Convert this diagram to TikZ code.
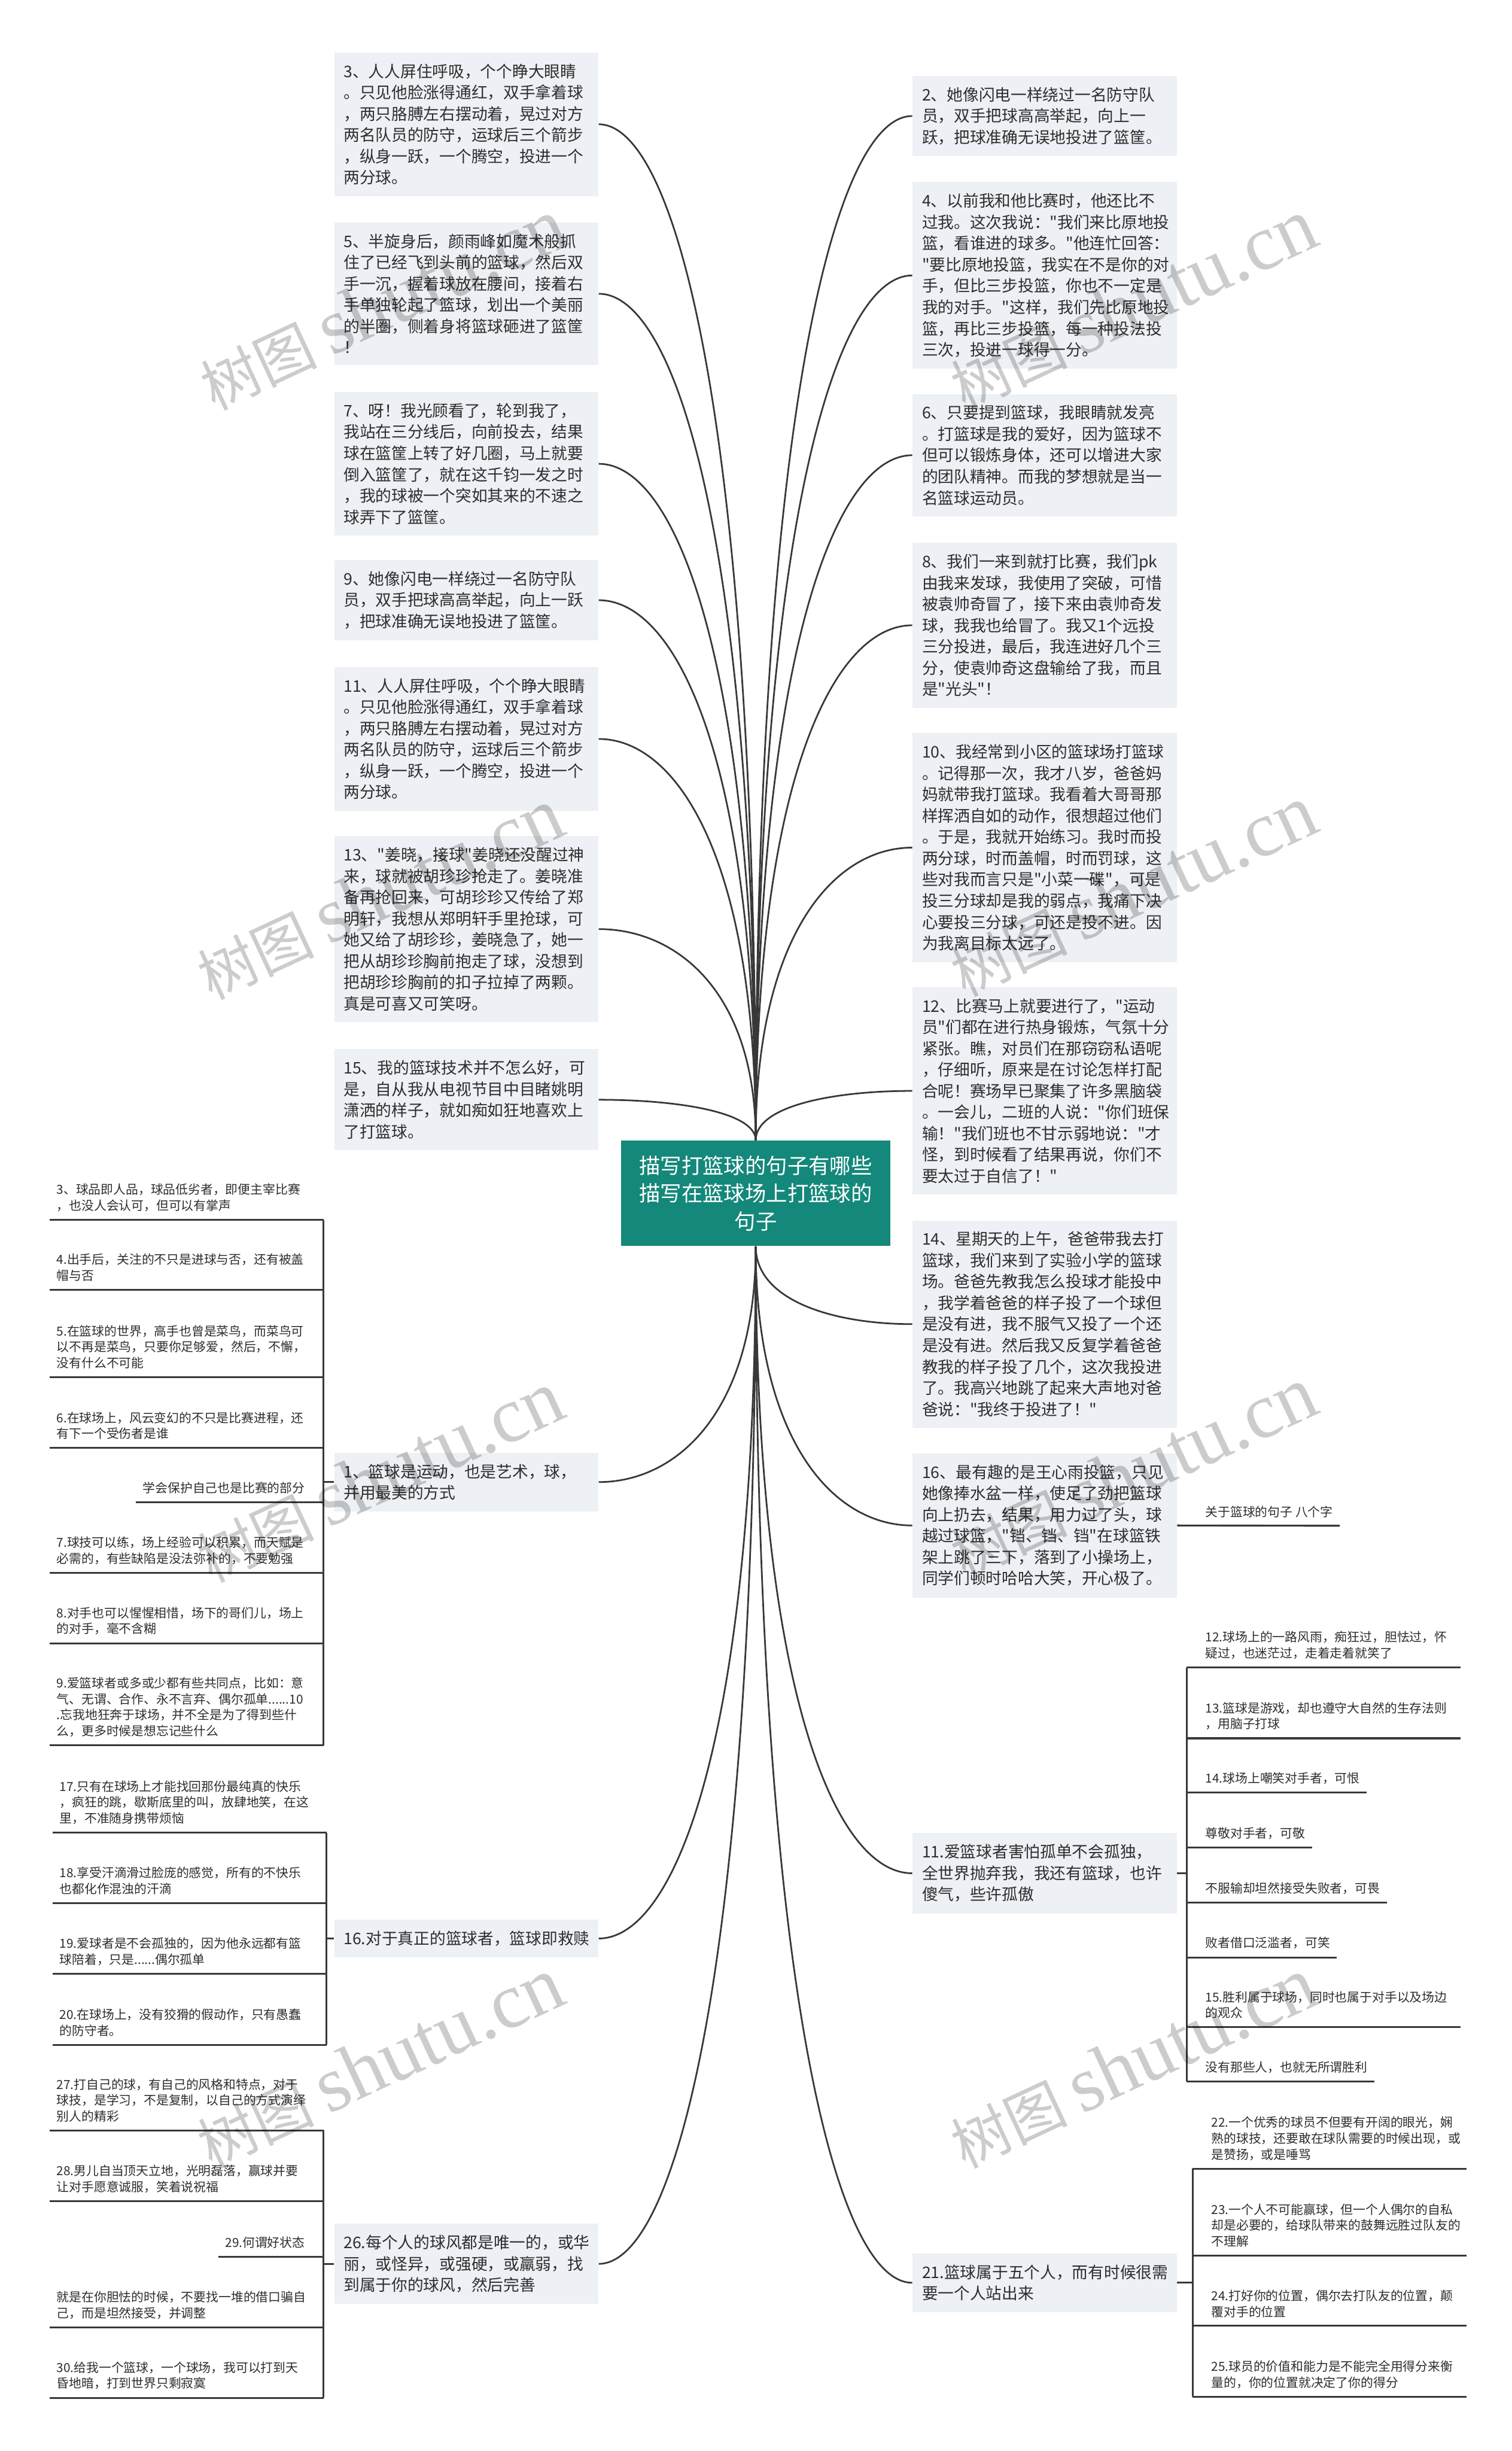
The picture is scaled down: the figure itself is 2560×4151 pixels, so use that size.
\documentclass[tikz,border=0pt]{standalone}
\usepackage{fontspec}
\setmainfont{Noto Sans CJK SC}[Ligatures=TeXOff]
\newfontfamily\latinserif{Liberation Serif}
\usetikzlibrary{positioning,calc}

\definecolor{boxgray}{RGB}{237,240,244}
\definecolor{hubteal}{RGB}{20,136,122}
\definecolor{linegray}{RGB}{56,56,56}
\definecolor{textgray}{RGB}{45,45,45}

% curves out of the title box
\newcommand{\linkup}[1]{\draw[link] (hub.north) .. controls ($(hub.north)!0.7!(hub.north|-#1)$) and ($(#1)!0.5!(hub.north|-#1)$) .. (#1);}
\newcommand{\linkdown}[1]{\draw[link] (hub.south) .. controls ($(hub.south)!0.7!(hub.south|-#1)$) and ($(#1)!0.5!(hub.south|-#1)$) .. (#1);}

\begin{document}
\begin{tikzpicture}[x=0.01cm,y=-0.01cm,
    box/.style={fill=boxgray,text=textgray,font=\fontsize{7.7}{10.24}\selectfont,text width=4.15cm,inner xsep=0.16cm,inner ysep=0.19cm,align=left},
    hub/.style={fill=hubteal,text=white,font=\fontsize{10.2}{13.4}\selectfont,minimum width=4.56cm,minimum height=1.78cm,inner sep=0pt,align=center},
    leaf/.style={text=textgray,font=\fontsize{6}{7.7}\selectfont,inner xsep=0.11cm,inner ysep=0.135cm,align=left},
    longleaf/.style={leaf,text width=4.2cm},
    link/.style={draw=linegray,line width=0.8pt},
    uline/.style={draw=linegray,line width=0.9pt},
    wmark/.style={rotate=25,text=black,text opacity=0.2,font=\fontsize{28}{28}\selectfont}]
  \fill[white] (0,0) rectangle (2560,4151);
  \useasboundingbox (0,0) rectangle (2560,4151);

  % Title
  \node[hub] (hub) at (1280,2021) {描写打篮球的句子有哪些\\描写在篮球场上打篮球的\\句子};

  % Left column
  \node[box,anchor=east] (l3) at (1014,210.5) {3、人人屏住呼吸，个个睁大眼睛\\。只见他脸涨得通红，双手拿着球\\，两只胳膊左右摆动着，晃过对方\\两名队员的防守，运球后三个箭步\\，纵身一跃，一个腾空，投进一个\\两分球。};
  \node[box,anchor=east] (l5) at (1014,497.5) {5、半旋身后，颜雨峰如魔术般抓\\住了已经飞到头前的篮球，然后双\\手一沉，握着球放在腰间，接着右\\手单独轮起了篮球，划出一个美丽\\的半圈，侧着身将篮球砸进了篮筐\\！};
  \node[box,anchor=east] (l7) at (1014,785.5) {7、呀！我光顾看了，轮到我了，\\我站在三分线后，向前投去，结果\\球在篮筐上转了好几圈，马上就要\\倒入篮筐了，就在这千钧一发之时\\，我的球被一个突如其来的不速之\\球弄下了篮筐。};
  \node[box,anchor=east] (l9) at (1014,1016.5) {9、她像闪电一样绕过一名防守队\\员，双手把球高高举起，向上一跃\\，把球准确无误地投进了篮筐。};
  \node[box,anchor=east] (l11) at (1014,1251.5) {11、人人屏住呼吸，个个睁大眼睛\\。只见他脸涨得通红，双手拿着球\\，两只胳膊左右摆动着，晃过对方\\两名队员的防守，运球后三个箭步\\，纵身一跃，一个腾空，投进一个\\两分球。};
  \node[box,anchor=east] (l13) at (1014,1573.5) {13、"姜晓，接球"姜晓还没醒过神\\来，球就被胡珍珍抢走了。姜晓准\\备再抢回来，可胡珍珍又传给了郑\\明轩，我想从郑明轩手里抢球，可\\她又给了胡珍珍，姜晓急了，她一\\把从胡珍珍胸前抱走了球，没想到\\把胡珍珍胸前的扣子拉掉了两颗。\\真是可喜又可笑呀。};
  \node[box,anchor=east] (l15) at (1014,1862.5) {15、我的篮球技术并不怎么好，可\\是，自从我从电视节目中目睹姚明\\潇洒的样子，就如痴如狂地喜欢上\\了打篮球。};
  \node[box,anchor=east] (l1) at (1014,2510) {1、篮球是运动，也是艺术，球，\\并用最美的方式};
  \node[box,anchor=east] (l16) at (1014,3283) {16.对于真正的篮球者，篮球即救赎};
  \node[box,anchor=east] (l26) at (1014,3834) {26.每个人的球风都是唯一的，或华\\丽，或怪异，或强硬，或羸弱，找\\到属于你的球风，然后完善};

  % Right column
  \node[box,anchor=west] (r2) at (1545,196.5) {2、她像闪电一样绕过一名防守队\\员，双手把球高高举起，向上一\\跃，把球准确无误地投进了篮筐。};
  \node[box,anchor=west] (r4) at (1545,466.5) {4、以前我和他比赛时，他还比不\\过我。这次我说："我们来比原地投\\篮，看谁进的球多。"他连忙回答：\\"要比原地投篮，我实在不是你的对\\手，但比三步投篮，你也不一定是\\我的对手。"这样，我们先比原地投\\篮，再比三步投篮，每一种投法投\\三次，投进一球得一分。};
  \node[box,anchor=west] (r6) at (1545,771) {6、只要提到篮球，我眼睛就发亮\\。打篮球是我的爱好，因为篮球不\\但可以锻炼身体，还可以增进大家\\的团队精神。而我的梦想就是当一\\名篮球运动员。};
  \node[box,anchor=west] (r8) at (1545,1059) {8、我们一来到就打比赛，我们pk\\由我来发球，我使用了突破，可惜\\被袁帅奇冒了，接下来由袁帅奇发\\球，我我也给冒了。我又1个远投\\三分投进，最后，我连进好几个三\\分，使袁帅奇这盘输给了我，而且\\是"光头"！};
  \node[box,anchor=west] (r10) at (1545,1435.5) {10、我经常到小区的篮球场打篮球\\。记得那一次，我才八岁，爸爸妈\\妈就带我打篮球。我看着大哥哥那\\样挥洒自如的动作，很想超过他们\\。于是，我就开始练习。我时而投\\两分球，时而盖帽，时而罚球，这\\些对我而言只是"小菜一碟"，可是\\投三分球却是我的弱点，我痛下决\\心要投三分球，可还是投不进。因\\为我离目标太远了。};
  \node[box,anchor=west] (r12) at (1545,1847.5) {12、比赛马上就要进行了，"运动\\员"们都在进行热身锻炼，气氛十分\\紧张。瞧，对员们在那窃窃私语呢\\，仔细听，原来是在讨论怎样打配\\合呢！赛场早已聚集了许多黑脑袋\\。一会儿，二班的人说："你们班保\\输！"我们班也不甘示弱地说："才\\怪，到时候看了结果再说，你们不\\要太过于自信了！"};
  \node[box,anchor=west] (r14) at (1545,2242.5) {14、星期天的上午，爸爸带我去打\\篮球，我们来到了实验小学的篮球\\场。爸爸先教我怎么投球才能投中\\，我学着爸爸的样子投了一个球但\\是没有进，我不服气又投了一个还\\是没有进。然后我又反复学着爸爸\\教我的样子投了几个，这次我投进\\了。我高兴地跳了起来大声地对爸\\爸说："我终于投进了！"};
  \node[box,anchor=west] (r16) at (1545,2583.5) {16、最有趣的是王心雨投篮，只见\\她像捧水盆一样，使足了劲把篮球\\向上扔去，结果，用力过了头，球\\越过球篮，"铛、铛、铛"在球篮铁\\架上跳了三下，落到了小操场上，\\同学们顿时哈哈大笑，开心极了。};
  \node[box,anchor=west] (r11) at (1545,3172.5) {11.爱篮球者害怕孤单不会孤独，\\全世界抛弃我，我还有篮球，也许\\傻气，些许孤傲};
  \node[box,anchor=west] (r21) at (1545,3866) {21.篮球属于五个人，而有时候很需\\要一个人站出来};

  % Curves
  \foreach \b in {l3.east,l5.east,l7.east,l9.east,l11.east,l13.east,l15.east,r2.west,r4.west,r6.west,r8.west,r10.west,r12.west}
    {\linkup{\b}}
  \foreach \b in {l1.east,l16.east,l26.east,r14.west,r16.west,r11.west,r21.west}
    {\linkdown{\b}}

  % Leaves of box 1
  \node[longleaf,anchor=south east] (a1) at (528,2066) {3、球品即人品，球品低劣者，即便主宰比赛\\，也没人会认可，但可以有掌声};
  \node[longleaf,anchor=south east] (a2) at (528,2184) {4.出手后，关注的不只是进球与否，还有被盖\\帽与否};
  \node[longleaf,anchor=south east] (a3) at (528,2332) {5.在篮球的世界，高手也曾是菜鸟，而菜鸟可\\以不再是菜鸟，只要你足够爱，然后，不懈，\\没有什么不可能};
  \node[longleaf,anchor=south east] (a4) at (528,2452) {6.在球场上，风云变幻的不只是比赛进程，还\\有下一个受伤者是谁};
  \node[leaf,anchor=south east] (a5) at (528,2544) {学会保护自己也是比赛的部分};
  \node[longleaf,anchor=south east] (a6) at (528,2664) {7.球技可以练，场上经验可以积累，而天赋是\\必需的，有些缺陷是没法弥补的，不要勉强};
  \node[longleaf,anchor=south east] (a7) at (528,2783) {8.对手也可以惺惺相惜，场下的哥们儿，场上\\的对手，毫不含糊};
  \node[longleaf,anchor=south east] (a8) at (528,2956) {9.爱篮球者或多或少都有些共同点，比如：意\\气、无谓、合作、永不言弃、偶尔孤单......10\\.忘我地狂奔于球场，并不全是为了得到些什\\么，更多时候是想忘记些什么};
  \foreach \n in {a1,a2,a3,a4,a5,a6,a7,a8}
    \draw[uline] (\n.south west) -- ($(\n.south east)+(20,0)$);
  \coordinate (ka) at ($(a1.south east)+(20,0)$);
  \coordinate (kb) at ($(a8.south east)+(20,0)$);
  \draw[uline] (ka) -- (kb);
  \draw[uline] (l1.west) -- (l1.west-|ka);

  % Leaves of box 16
  \node[longleaf,anchor=south east] (b1) at (533,3104) {17.只有在球场上才能找回那份最纯真的快乐\\，疯狂的跳，歇斯底里的叫，放肆地笑，在这\\里，不准随身携带烦恼};
  \node[longleaf,anchor=south east] (b2) at (533,3223) {18.享受汗滴滑过脸庞的感觉，所有的不快乐\\也都化作混浊的汗滴};
  \node[longleaf,anchor=south east] (b3) at (533,3343) {19.爱球者是不会孤独的，因为他永远都有篮\\球陪着，只是......偶尔孤单};
  \node[longleaf,anchor=south east] (b4) at (533,3463) {20.在球场上，没有狡猾的假动作，只有愚蠢\\的防守者。};
  \foreach \n in {b1,b2,b3,b4}
    \draw[uline] (\n.south west) -- ($(\n.south east)+(20,0)$);
  \coordinate (kc) at ($(b1.south east)+(20,0)$);
  \coordinate (kd) at ($(b4.south east)+(20,0)$);
  \draw[uline] (kc) -- (kd);
  \draw[uline] (l16.west) -- (l16.west-|kc);

  % Leaves of box 26
  \node[longleaf,anchor=south east] (c1) at (528,3608) {27.打自己的球，有自己的风格和特点，对于\\球技，是学习，不是复制，以自己的方式演绎\\别人的精彩};
  \node[longleaf,anchor=south east] (c2) at (528,3728) {28.男儿自当顶天立地，光明磊落，赢球并要\\让对手愿意诚服，笑着说祝福};
  \node[leaf,anchor=south east] (c3) at (528,3822) {29.何谓好状态};
  \node[longleaf,anchor=south east] (c4) at (528,3942) {就是在你胆怯的时候，不要找一堆的借口骗自\\己，而是坦然接受，并调整};
  \node[longleaf,anchor=south east] (c5) at (528,4061) {30.给我一个篮球，一个球场，我可以打到天\\昏地暗，打到世界只剩寂寞};
  \foreach \n in {c1,c2,c3,c4,c5}
    \draw[uline] (\n.south west) -- ($(\n.south east)+(20,0)$);
  \coordinate (ke) at ($(c1.south east)+(20,0)$);
  \coordinate (kf) at ($(c5.south east)+(20,0)$);
  \draw[uline] (ke) -- (kf);
  \draw[uline] (l26.west) -- (l26.west-|ke);

  % Leaf of right box 16
  \node[leaf,anchor=south west] (f1) at (2030,2584) {关于篮球的句子 八个字};
  \draw[uline] (r16.east) -- (f1.south east);

  % Leaves of box 11
  \node[longleaf,anchor=south west] (d1) at (2030,2824) {12.球场上的一路风雨，痴狂过，胆怯过，怀\\疑过，也迷茫过，走着走着就笑了};
  \node[longleaf,anchor=south west] (d2) at (2030,2944) {13.篮球是游戏，却也遵守大自然的生存法则\\，用脑子打球};
  \node[leaf,anchor=south west] (d3) at (2030,3036) {14.球场上嘲笑对手者，可恨};
  \node[leaf,anchor=south west] (d4) at (2030,3129) {尊敬对手者，可敬};
  \node[leaf,anchor=south west] (d5) at (2030,3222) {不服输却坦然接受失败者，可畏};
  \node[leaf,anchor=south west] (d6) at (2030,3315) {败者借口泛滥者，可笑};
  \node[longleaf,anchor=south west] (d7) at (2030,3433) {15.胜利属于球场，同时也属于对手以及场边\\的观众};
  \node[leaf,anchor=south west] (d8) at (2030,3525) {没有那些人，也就无所谓胜利};
  \foreach \n in {d1,d2,d3,d4,d5,d6,d7,d8}
    \draw[uline] ($(\n.south west)+(-20,0)$) -- (\n.south east);
  \coordinate (kg) at ($(d1.south west)+(-20,0)$);
  \coordinate (kh) at ($(d8.south west)+(-20,0)$);
  \draw[uline] (kg) -- (kh);
  \draw[uline] (r11.east) -- (r11.east-|kg);

  % Leaves of box 21
  \node[longleaf,anchor=south west] (e1) at (2040,3673) {22.一个优秀的球员不但要有开阔的眼光，娴\\熟的球技，还要敢在球队需要的时候出现，或\\是赞扬，或是唾骂};
  \node[longleaf,anchor=south west] (e2) at (2040,3820) {23.一个人不可能赢球，但一个人偶尔的自私\\却是必要的，给球队带来的鼓舞远胜过队友的\\不理解};
  \node[longleaf,anchor=south west] (e3) at (2040,3939) {24.打好你的位置，偶尔去打队友的位置，颠\\覆对手的位置};
  \node[longleaf,anchor=south west] (e4) at (2040,4059) {25.球员的价值和能力是不能完全用得分来衡\\量的，你的位置就决定了你的得分};
  \foreach \n in {e1,e2,e3,e4}
    \draw[uline] ($(\n.south west)+(-20,0)$) -- (\n.south east);
  \coordinate (ki) at ($(e1.south west)+(-20,0)$);
  \coordinate (kj) at ($(e4.south west)+(-20,0)$);
  \draw[uline] (ki) -- (kj);
  \draw[uline] (r21.east) -- (r21.east-|ki);

  % Watermarks
  \foreach \x/\y in {648/516,1919/516,643/1514,1919/1509,643/2501,1919/2494,643/3494,1919/3494}
    \node[wmark] at (\x,\y) {树图 {\latinserif\fontsize{38}{38}\selectfont shutu.cn}};
\end{tikzpicture}
\end{document}
